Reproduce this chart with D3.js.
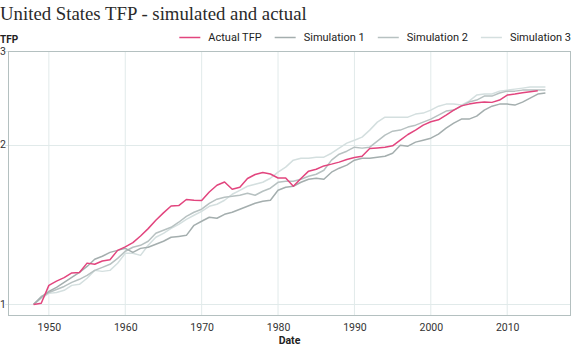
<!DOCTYPE html>
<html>
<head>
<meta charset="utf-8">
<script src="https://cdn.jsdelivr.net/npm/d3@7"></script>
<style>
  body { margin: 0; background: #fff; }
  svg { display: block; }
  text { fill: #222; }
</style>
</head>
<body>
<div id="chart"></div>
<script>
//Data//
var years = d3.range(1948, 2016);
var yTicks = [1, 2, 3];
var xTicks = [1950, 1960, 1970, 1980, 1990, 2000, 2010];
var seriesNames = ["Actual TFP", "Simulation 1", "Simulation 2", "Simulation 3"];

//Actual TFP, 1948-2014
var actualTFP = [1.00, 1.005, 1.086, 1.106, 1.123, 1.146, 1.148, 1.196, 1.190, 1.207, 1.214, 1.264, 1.283,
  1.307, 1.345, 1.389, 1.440, 1.487, 1.532, 1.535, 1.576, 1.571, 1.569, 1.628, 1.676,
  1.700, 1.648, 1.662, 1.726, 1.756, 1.771, 1.760, 1.730, 1.730, 1.669, 1.726, 1.782,
  1.797, 1.823, 1.837, 1.853, 1.874, 1.891, 1.901, 1.966, 1.971, 1.977, 1.989, 2.038,
  2.089, 2.129, 2.176, 2.207, 2.226, 2.272, 2.322, 2.365, 2.383, 2.398, 2.404, 2.401,
  2.425, 2.478, 2.489, 2.503, 2.514, 2.525];

//Simulations, 1948-2015
var simulation1 = [1.00, 1.031, 1.058, 1.077, 1.100, 1.124, 1.149, 1.179, 1.216, 1.232, 1.253, 1.264, 1.275,
  1.253, 1.275, 1.281, 1.298, 1.315, 1.338, 1.343, 1.349, 1.409, 1.434, 1.459, 1.453,
  1.478, 1.491, 1.511, 1.530, 1.550, 1.564, 1.571, 1.640, 1.662, 1.669, 1.698, 1.721,
  1.728, 1.721, 1.774, 1.805, 1.829, 1.869, 1.885, 1.885, 1.893, 1.901, 1.926, 1.994,
  1.986, 2.021, 2.038, 2.056, 2.092, 2.147, 2.194, 2.233, 2.233, 2.262, 2.322, 2.362,
  2.383, 2.383, 2.373, 2.404, 2.446, 2.489, 2.500];

var simulation2 = [1.00, 1.035, 1.053, 1.067, 1.081, 1.100, 1.115, 1.134, 1.159, 1.174, 1.190, 1.221, 1.259,
  1.281, 1.292, 1.315, 1.361, 1.379, 1.397, 1.428, 1.465, 1.491, 1.511, 1.550, 1.578,
  1.591, 1.598, 1.605, 1.619, 1.605, 1.633, 1.655, 1.698, 1.706, 1.706, 1.721, 1.743,
  1.758, 1.789, 1.869, 1.918, 1.943, 1.977, 1.969, 1.977, 2.029, 2.083, 2.119, 2.129,
  2.157, 2.175, 2.204, 2.233, 2.272, 2.312, 2.322, 2.362, 2.404, 2.425, 2.467, 2.467,
  2.500, 2.521, 2.521, 2.532, 2.532, 2.532, 2.532];

var simulation3 = [1.00, 1.026, 1.049, 1.053, 1.063, 1.086, 1.091, 1.120, 1.159, 1.154, 1.159, 1.195, 1.248,
  1.248, 1.237, 1.292, 1.338, 1.361, 1.391, 1.415, 1.446, 1.472, 1.497, 1.530, 1.544,
  1.571, 1.612, 1.640, 1.669, 1.684, 1.698, 1.728, 1.774, 1.813, 1.869, 1.885, 1.885,
  1.893, 1.893, 1.926, 1.969, 2.012, 2.038, 2.065, 2.129, 2.204, 2.252, 2.252, 2.252,
  2.252, 2.282, 2.292, 2.322, 2.362, 2.383, 2.383, 2.373, 2.414, 2.478, 2.489, 2.489,
  2.521, 2.532, 2.543, 2.554, 2.566, 2.566, 2.566];

var colors = ["#e2457e", "#a4aeae", "#b7c1c1", "#d4dfdf"];

//Chart setup
var w = 572, h = 347;
var margin = {top: 51, right: 1, bottom: 31, left: 8};

var svg = d3.select("#chart")
  .append("svg")
  .attr("width", w)
  .attr("height", h);

var x = d3.scaleLinear()
  .domain([1944.65, 2018.35])
  .range([margin.left, w - margin.right]);

var y = d3.scaleLog()
  .domain([0.951, 3])
  .range([h - margin.bottom, margin.top]);

//Title
svg.append("text")
  .attr("x", 0)
  .attr("y", 20)
  .style("font-family", "'Liberation Serif', serif")
  .style("font-size", "18.8px")
  .style("fill", "#2a2a2a")
  .text("United States TFP - simulated and actual");

svg.append("text")
  .attr("x", 0)
  .attr("y", 43)
  .style("font-family", "Roboto, sans-serif")
  .style("font-size", "10px")
  .style("font-weight", "bold")
  .text("TFP");

//Grid
svg.append("g")
  .selectAll("line.vgrid")
  .data(xTicks)
  .enter()
  .append("line")
  .attr("x1", function(d){ return x(d); })
  .attr("x2", function(d){ return x(d); })
  .attr("y1", margin.top)
  .attr("y2", h - margin.bottom)
  .style("stroke", "#e1eaea")
  .style("stroke-width", 1);

svg.append("g")
  .selectAll("line.hgrid")
  .data(yTicks)
  .enter()
  .append("line")
  .attr("x1", margin.left - 3)
  .attr("x2", w - margin.right)
  .attr("y1", function(d){ return Math.round(y(d)) + 0.5; })
  .attr("y2", function(d){ return Math.round(y(d)) + 0.5; })
  .style("stroke", "#e1eaea")
  .style("stroke-width", 1);

//Frame
svg.append("rect")
  .attr("x", margin.left + 0.5)
  .attr("y", margin.top + 0.5)
  .attr("width", w - margin.left - margin.right - 1)
  .attr("height", h - margin.top - margin.bottom - 1)
  .style("fill", "none")
  .style("stroke", "#b4c0c0")
  .style("stroke-width", 1);

//Axes
var xAxis = svg.append("g")
  .attr("transform", "translate(0," + (h - margin.bottom) + ")")
  .call(d3.axisBottom(x).tickValues(xTicks).tickFormat(d3.format("d")).tickSize(0).tickPadding(8));

var yAxis = svg.append("g")
  .attr("transform", "translate(" + margin.left + ",0)")
  .call(d3.axisLeft(y).tickValues(yTicks).tickFormat(d3.format("d")).tickSize(0).tickPadding(2));

[xAxis, yAxis].forEach(function(a){
  a.select(".domain").remove();
  a.selectAll("text")
    .style("font-family", "Roboto, sans-serif")
    .style("font-size", "10.5px")
    .style("fill", "#333");
});

svg.append("text")
  .attr("x", x(1981.5))
  .attr("y", h - 3)
  .attr("text-anchor", "middle")
  .style("font-family", "Roboto, sans-serif")
  .style("font-size", "10.5px")
  .style("font-weight", "bold")
  .text("Date");

//Lines
var allSeries = [actualTFP, simulation1, simulation2, simulation3];
var line = d3.line()
  .x(function(d){ return x(d.year); })
  .y(function(d){ return y(d.value); });

//Draw lightest first so actual TFP sits on top
[3, 2, 1, 0].forEach(function(i){
  var pts = allSeries[i].map(function(v, j){ return {year: years[j], value: v}; });
  svg.append("path")
    .datum(pts)
    .attr("d", line)
    .style("fill", "none")
    .style("stroke", colors[i])
    .style("stroke-width", 1.5)
    .style("stroke-linejoin", "round");
});

//Legend, right aligned
var legend = svg.append("g");
var lx = w - 1;
for (var i = seriesNames.length - 1; i >= 0; i--) {
  var t = legend.append("text")
    .attr("y", 41)
    .style("font-family", "Roboto, sans-serif")
    .style("font-size", "11px")
    .text(seriesNames[i]);
  var tw = t.node().getComputedTextLength();
  t.attr("x", lx - tw);
  legend.append("line")
    .attr("x1", lx - tw - 29)
    .attr("x2", lx - tw - 8)
    .attr("y1", 37.5)
    .attr("y2", 37.5)
    .style("stroke", colors[i])
    .style("stroke-width", 1.5);
  lx = lx - tw - 29 - 13;
}
</script>
</body>
</html>
